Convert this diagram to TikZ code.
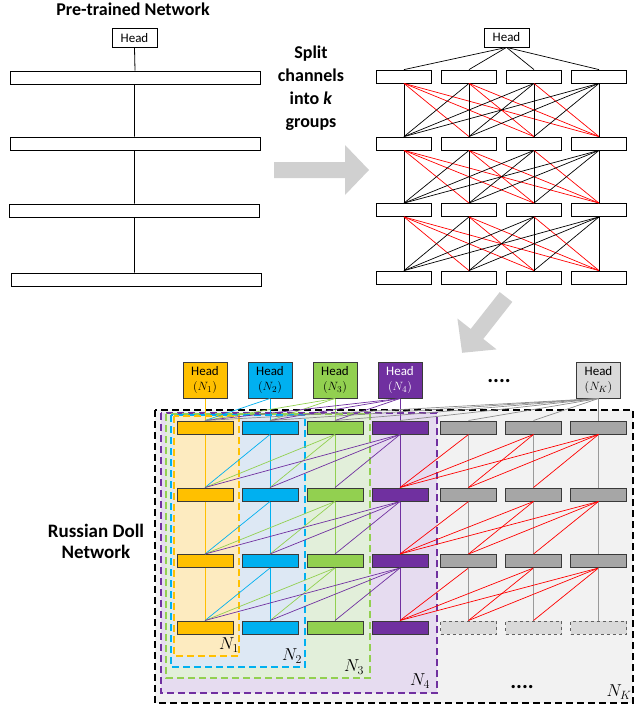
\documentclass[tikz,border=0pt]{standalone}
\usepackage{fontspec}
\setmainfont{Carlito}
\definecolor{cOrange}{HTML}{FFC000}
\definecolor{cBlue}{HTML}{00B0F0}
\definecolor{cGreen}{HTML}{92D050}
\definecolor{cPurple}{HTML}{7030A0}
\definecolor{cGray}{HTML}{A6A6A6}
\definecolor{cLightGray}{HTML}{D9D9D9}
\definecolor{fOrange}{HTML}{FDEBC0}
\definecolor{fBlue}{HTML}{DDE8F4}
\definecolor{fGreen}{HTML}{E2EFDA}
\definecolor{fPurple}{HTML}{E6DCF0}
\definecolor{fOuter}{HTML}{F2F2F2}
\definecolor{arrowGray}{HTML}{D0D0D0}
\definecolor{vGray}{HTML}{9A9A9A}
\definecolor{hGray}{HTML}{8C8C8C}
\definecolor{barEdge}{HTML}{3A3A3A}
\definecolor{lineRed}{HTML}{FF0000}
\begin{document}
\begin{tikzpicture}[x=1pt,y=-1pt,
  headbox/.style={draw=black, line width=0.8pt, fill=white, minimum width=45pt,
    minimum height=19pt, inner sep=0pt, font=\fontsize{13}{15}\selectfont},
  widebar/.style={draw=black, line width=0.8pt, fill=white, minimum width=250pt,
    minimum height=13pt, inner sep=0pt},
  netbar/.style={draw=black, line width=0.8pt, fill=white, minimum width=55pt,
    minimum height=13pt, inner sep=0pt},
  dollbar/.style={draw=barEdge, line width=1pt, minimum width=56pt,
    minimum height=13pt, inner sep=0pt},
  dollhead/.style={draw=barEdge, line width=1pt, minimum width=44pt,
    minimum height=36pt, inner sep=0pt, align=center,
    font=\fontsize{13}{15}\selectfont},
  boldtext/.style={font=\bfseries\fontsize{18}{23.3}\selectfont, align=center},
  region/.style={line width=1.3pt, dash pattern=on 7pt off 4pt},
  regionlabel/.style={font=\fontsize{18}{20}\selectfont, inner sep=0pt},
  dots/.style={font=\bfseries\fontsize{22}{24}\selectfont, inner sep=0pt, anchor=base},
  link/.style={line width=0.7pt},
  bigarrow/.style={fill=arrowGray, draw=none}]
\useasboundingbox (0,0) rectangle (637,706);

% ---------- pre-trained network ----------
\node[boldtext, anchor=base] (ttl) at (133,16) {Pre-trained Network};
\node[headbox] (ph) at (134.5,38) {Head};
\node[widebar] (p1) at (135,77.5) {};
\node[widebar] (p2) at (135,143.5) {};
\node[widebar] (p3) at (134,210.5) {};
\node[widebar] (p4) at (136,279.5) {};
\draw[line width=0.8pt] (ph.south) -- (p1.north)
  (p1.south -| ph.south) -- (p2.north -| ph.south)
  (p2.south -| ph.south) -- (p3.north -| ph.south)
  (p3.south -| ph.south) -- (p4.north -| ph.south);

% ---------- split step (base anchor = last line) ----------
\node[boldtext, anchor=base] (split) at (311,128) {Split\\channels\\into \textit{k}\\groups};
\fill[bigarrow] (274,162) -- (345,162) -- (345,145) -- (369,170) -- (345,195)
  -- (345,178) -- (274,178) -- cycle;

% ---------- grouped network ----------
\node[headbox] (qh) at (506.5,37.5) {Head};
\foreach \r/\y in {1/76.5,2/143.5,3/210,4/277.5}{
  \foreach \c/\x in {1/404,2/469,3/534,4/599}{
    \node[netbar] (q-\r-\c) at (\x,\y) {};
  }
}
\foreach \c in {1,...,4}{
  \draw[line width=0.7pt] (qh.south) -- (q-1-\c.north);
}
\foreach \r/\s in {1/2,2/3,3/4}{
  \foreach \i in {1,...,4}{
    \foreach \j in {1,...,4}{
      \ifnum\j>\i \def\ec{lineRed}\else\def\ec{black}\fi
      \draw[link, draw=\ec] (q-\r-\i.south) -- (q-\s-\j.north);
    }
  }
}

% ---------- arrow to the nested network ----------
\fill[bigarrow] (499.7,292.1) -- (512.3,301.9) -- (483.3,338.9) -- (496.6,349.4)
  -- (462.1,352.8) -- (457.4,318.5) -- (470.7,329.0) -- cycle;

% ---------- nested sub-network regions ----------
\draw[region, fill=fOuter, draw=black] (155,410) rectangle (633,703);
\draw[region, fill=fPurple, draw=cPurple] (161,413) rectangle (437,693);
\draw[region, fill=fGreen, draw=cGreen] (166,414) rectangle (370,678);
\draw[region, fill=fBlue, draw=cBlue] (171,415) rectangle (305,667);
\draw[region, fill=fOrange, draw=cOrange] (174,416) rectangle (239,656);

\node[regionlabel] (l1) at (229,645) {$N_1$};
\node[regionlabel] (l2) at (292,656) {$N_2$};
\node[regionlabel] (l3) at (354,667) {$N_3$};
\node[regionlabel] (l4) at (420,681) {$N_4$};
\node[regionlabel] (lK) at (619,692) {$N_K$};

\node[boldtext, font=\bfseries\fontsize{19}{21}\selectfont, anchor=base] (rdn) at (96,558) {Russian Doll\\Network};

% ---------- heads of the nested networks ----------
\node[dollhead, fill=cOrange] (h1) at (205,380) {Head\\$(N_1)$};
\node[dollhead, fill=cBlue] (h2) at (270,380) {Head\\$(N_2)$};
\node[dollhead, fill=cGreen] (h3) at (335,380) {Head\\$(N_3)$};
\node[dollhead, fill=cPurple, text=white] (h4) at (400,380) {Head\\$(N_4)$};
\node[dollhead, fill=cLightGray] (hK) at (598.5,380) {Head\\$(N_K)$};
\node[dots] (dt1) at (499,382.5) {....};
\node[dots] (dt2) at (522,688) {....};

% ---------- layer blocks ----------
\foreach \c/\x/\col in {1/205/cOrange,2/270/cBlue,3/335/cGreen,4/400/cPurple}{
  \foreach \r/\y in {1/427.5,2/494.5,3/561,4/627.5}{
    \node[dollbar, fill=\col] (d-\r-\c) at (\x,\y) {};
  }
}
\foreach \c/\x in {5/468.5,6/533.5,7/598.5}{
  \foreach \r/\y in {1/427.5,2/494.5,3/561}{
    \node[dollbar, fill=cGray] (d-\r-\c) at (\x,\y) {};
  }
  \node[dollbar, fill=cLightGray, draw=barEdge!80, dashed] (d-4-\c) at (\x,627.5) {};
}

% ---------- head connections ----------
\foreach \j/\lc in {1/cOrange,2/cBlue,3/cGreen,4/cPurple}{
  \foreach \i in {1,...,\j}{
    \draw[link, draw=\lc] (h\j.south) -- (d-1-\i.north);
  }
}
\foreach \i in {1,...,7}{
  \draw[link, draw=hGray] (hK.south) -- (d-1-\i.north);
}

% ---------- layer connections ----------
\foreach \r/\s in {1/2,2/3,3/4}{
  \foreach \j/\lc in {1/cOrange,2/cBlue,3/cGreen,4/cPurple,5/vGray,6/vGray,7/vGray}{
    \foreach \i in {1,...,\j}{
      \ifnum\i=\j \def\ec{\lc}\else
        \ifnum\j<5 \def\ec{\lc}\else
          \ifnum\i>3 \def\ec{lineRed}\else\def\ec{none}\fi
        \fi
      \fi
      \draw[link, draw=\ec] (d-\r-\j.south) -- (d-\s-\i.north);
    }
  }
}
\end{tikzpicture}
\end{document}
